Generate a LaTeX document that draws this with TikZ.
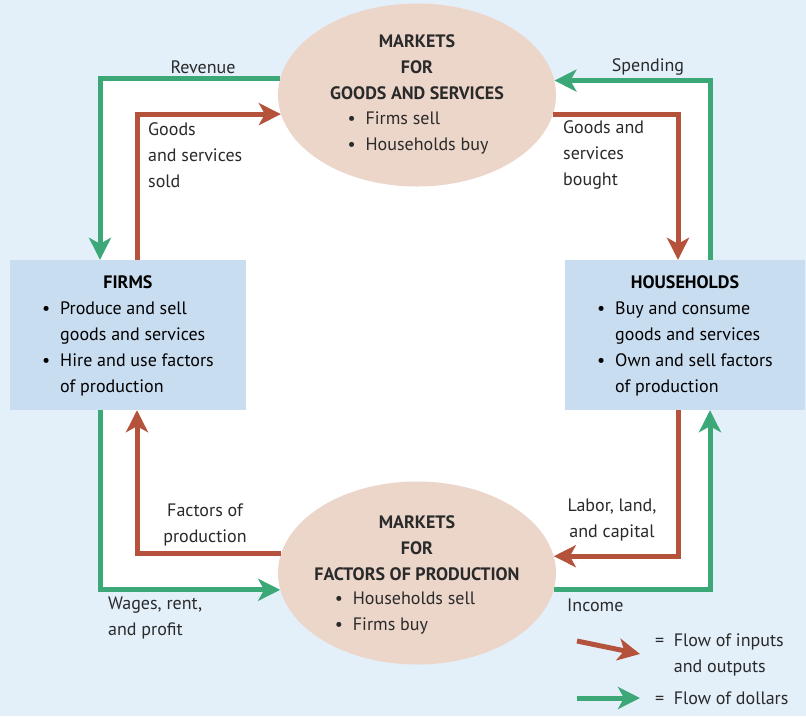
\documentclass[tikz,border=0pt]{standalone}
\usepackage{fontspec}
\setmainfont{PT Sans}
\usetikzlibrary{positioning, shapes, calc, arrows.meta}
\definecolor{bgblue}{HTML}{E3F0FA}
\definecolor{boxblue}{HTML}{C9DDF1}
\definecolor{tan}{HTML}{ECD6CA}
\definecolor{brick}{HTML}{B4523B}
\definecolor{money}{HTML}{3CA878}
\definecolor{ink}{HTML}{2A2A2A}
\tikzset{%
  market/.style = {ellipse, fill = tan, minimum width = 278pt,
    minimum height = 183pt, inner sep = 0pt}, % Market
  agent/.style  = {rectangle, fill = boxblue, minimum width = 236pt,
    minimum height = 150pt, inner sep = 0pt}, % Firms, households
  goods/.style  = {draw = brick, line width = 5pt,
    -{Stealth[length = 22pt, width = 22pt, inset = 6pt]}}, % Inputs, outputs
  dollar/.style = {draw = money, line width = 5pt,
    -{Stealth[length = 22pt, width = 22pt, inset = 6pt]}}, % Dollars
  note/.style   = {text = ink, inner sep = 0pt, align = left}
}
\newcommand{\itm}{\makebox[18pt][l]{\textbullet}}

\begin{document}
\begin{tikzpicture}[x = 1pt, y = -1pt, font = \fontsize{18}{26}\selectfont]
%background
\fill[bgblue] (0,0) rectangle (806,716);
\fill[white] (100,80) rectangle (710,590);
%blocks
\draw
	(417,95) node [market] (mg) {}
	(417,573) node [market] (mf) {}
	(128,335) node [agent] (firms) {\begin{tabular}{@{}l@{}l@{}}
		\multicolumn{2}{c}{\bfseries FIRMS}\\
		\itm & Produce and sell\\
		& goods and services\\
		\itm & Hire and use factors\\
		& of production
	\end{tabular}}
	(685,335) node [agent, minimum width = 240pt] (hh) {\begin{tabular}{@{}l@{}l@{}}
		\multicolumn{2}{c}{\bfseries HOUSEHOLDS}\\
		\itm & Buy and consume\\
		& goods and services\\
		\itm & Own and sell factors\\
		& of production
	\end{tabular}};
%market texts
\node[note, align = center] (mgtitle) at (417,67) {\bfseries MARKETS\\\bfseries FOR\\\bfseries GOODS AND SERVICES};
\node[note] (mglist) at (418,133) {\itm Firms sell\\\itm Households buy};
\node[note, align = center] (mftitle) at (417,548) {\bfseries MARKETS\\\bfseries FOR\\\bfseries FACTORS OF PRODUCTION};
\node[note] (mflist) at (405,613) {\itm Households sell\\\itm Firms buy};
%corners
\coordinate (gl) at (100,0);
\coordinate (rl) at (137,0);
\coordinate (rr) at (678,0);
\coordinate (gr) at (710,0);
%lines
\draw[dollar] (mg.173.4) -| (firms.north -| gl);
\draw[dollar] (hh.north -| gr) |- (mg.6.6);
\draw[dollar] (mf.-7.1) -| (hh.south -| gr);
\draw[dollar] (firms.south -| gl) |- (mf.187.1);
\draw[goods] (firms.north -| rl) |- (mg.188);
\draw[goods] (mg.-8) -| (hh.north -| rr);
\draw[goods] (hh.south -| rr) |- (mf.7.5);
\draw[goods] (mf.172.5) -| (firms.south -| rl);
%labels
\node[note] (rev) at (203,67) {Revenue};
\node[note] (spend) at (648,67) {Spending};
\node[note, anchor = west] (sold) at (148,155) {Goods\\and services\\sold};
\node[note, anchor = west] (bought) at (563,155) {Goods and\\services\\bought};
\node[note, align = center] (factors) at (205,525) {Factors of\\production};
\node[note, align = center] (labor) at (612,520) {Labor, land,\\and capital};
\node[note, anchor = west] (wages) at (108,618) {Wages, rent,\\and profit};
\node[note, anchor = west] (income) at (567,605) {Income};
%legend
\coordinate (kg) at (577,641);
\coordinate (kd) at (577,698);
\node[note, anchor = west] (kgtext) at (655,654) {\begin{tabular}{@{}l@{\ \ }l@{}}
	= & Flow of inputs\\
	& and outputs
\end{tabular}};
\node[note, anchor = west] (kdtext) at (655,698) {= \ Flow of dollars};
\draw[goods] (kg) -- (kgtext.west -| 640,0);
\draw[dollar] (kd) -- (kdtext.west -| 640,0);
\end{tikzpicture}
\end{document}
